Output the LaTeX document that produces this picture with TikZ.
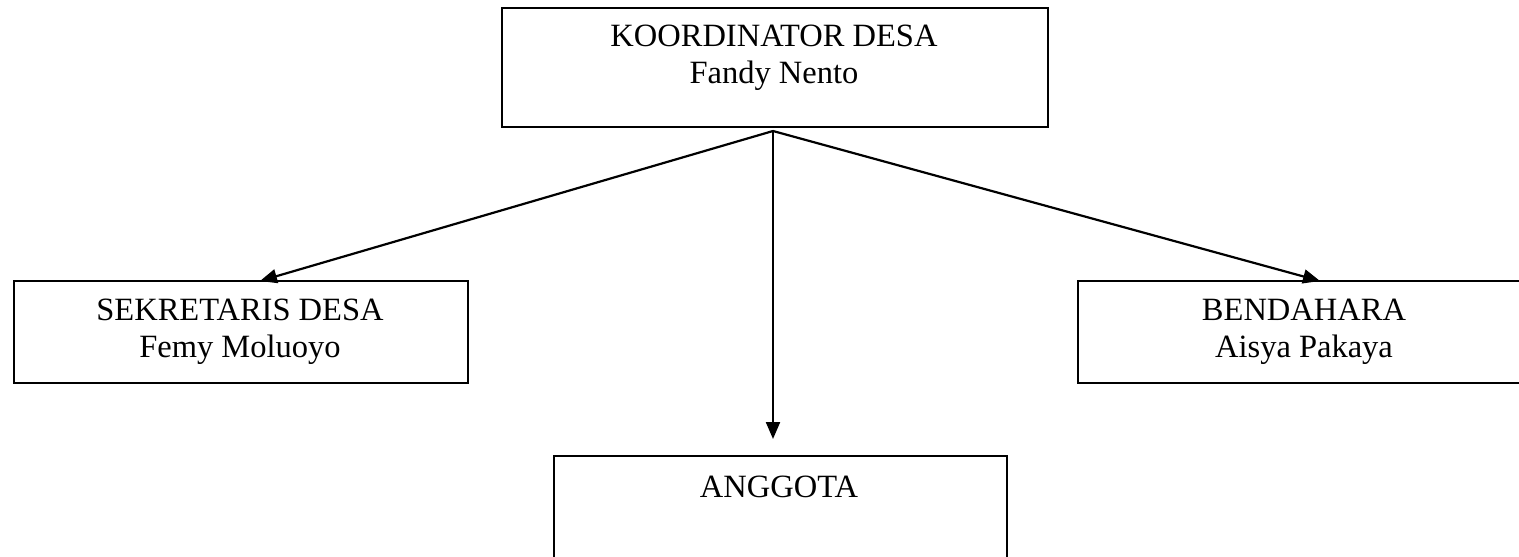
\documentclass[tikz,border=0pt]{standalone}
\usepackage{fontspec}
\setmainfont{Liberation Serif}
\usetikzlibrary{arrows.meta}
\begin{document}
\begin{tikzpicture}[x=1pt,y=-1pt,
  box/.style={draw=black,line width=2.2pt,inner sep=0pt,anchor=north west},
  lbl/.style={inner sep=0pt,align=center,anchor=base,font=\fontsize{32.5}{37}\selectfont},
  conn/.style={line width=2.2pt,-{Triangle[length=17pt,width=14pt]}}]
\useasboundingbox (0,0) rectangle (1519,557);
\clip (0,0) rectangle (1519,557);
\node[box,minimum width=546pt,minimum height=119pt] (koor) at (501,7) {};
\node[box,minimum width=454pt,minimum height=102pt] (sek) at (13,280) {};
\node[box,minimum width=454pt,minimum height=102pt] (ben) at (1077,280) {};
\node[box,minimum width=453pt,minimum height=110pt] (ang) at (553,455) {};
\node[lbl] (tkoor) at (774,46) {KOORDINATOR DESA};
\node[lbl] (tkoor2) at (774,83) {Fandy Nento};
\node[lbl] (tsek) at (240,320) {SEKRETARIS DESA};
\node[lbl] (tsek2) at (240,357) {Femy Moluoyo};
\node[lbl] (tben) at (1304,320) {BENDAHARA};
\node[lbl] (tben2) at (1304,357) {Aisya Pakaya};
\node[lbl] (tang) at (779,497) {ANGGOTA};
\coordinate (src) at (773,131);
\coordinate (esek) at (260,281);
\coordinate (eben) at (1320,281);
\coordinate (eang) at (773,439);
\draw[conn] (src) -- (esek);
\draw[conn] (src) -- (eang);
\draw[conn] (src) -- (eben);
\end{tikzpicture}
\end{document}
